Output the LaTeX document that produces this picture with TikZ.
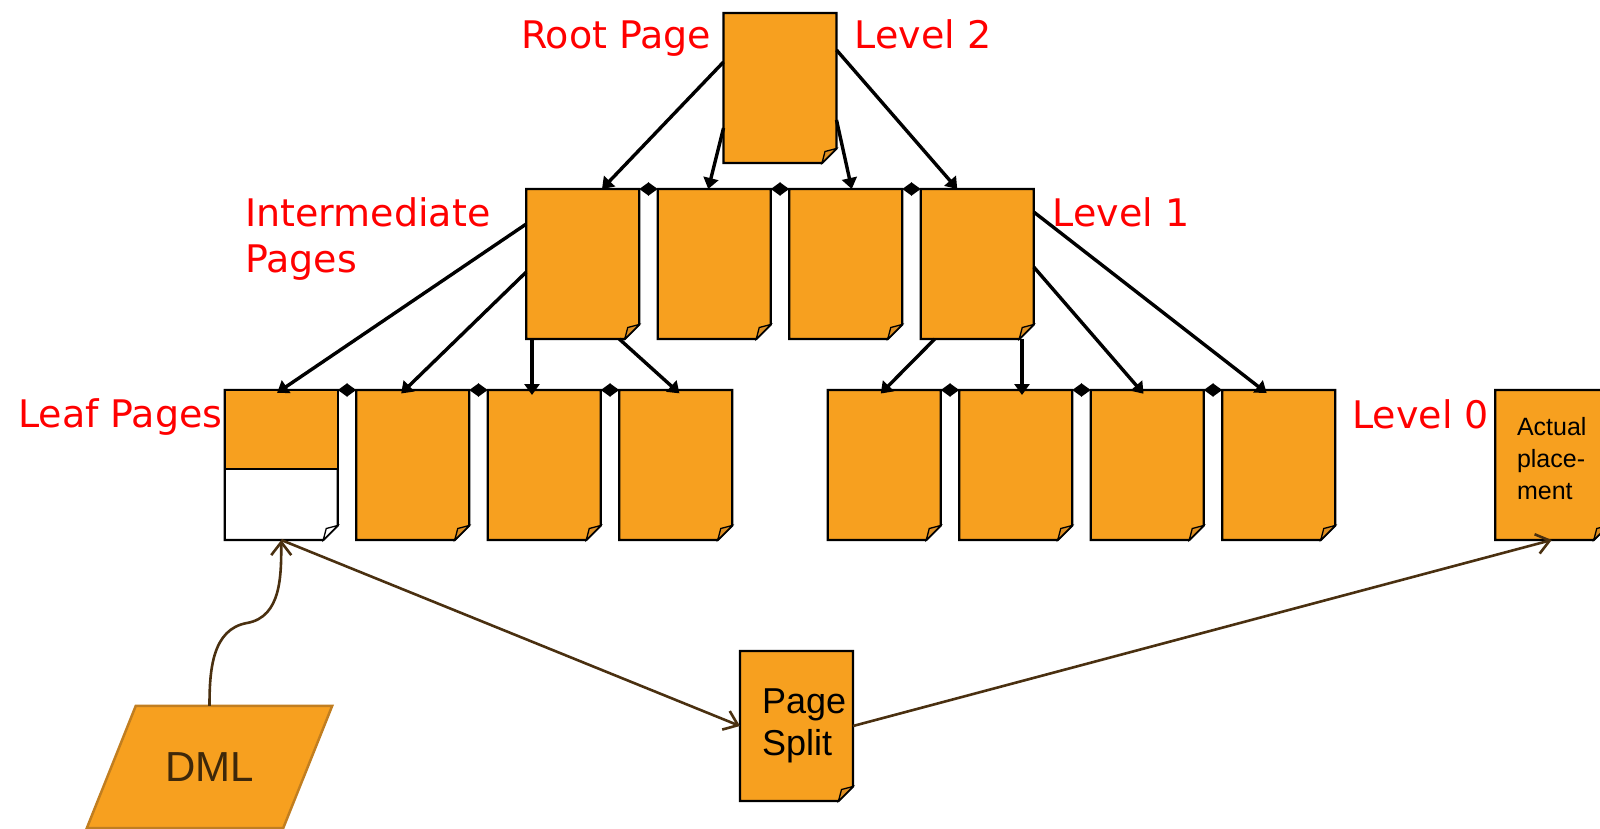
\documentclass[tikz,border=0pt]{standalone}
\usepackage{fontspec}
\setsansfont{Liberation Sans}
\newfontfamily\labelfont{DejaVu Sans}
\usetikzlibrary{positioning,calc,arrows.meta,backgrounds}

\definecolor{pageorange}{RGB}{247,160,31}
\definecolor{foldorange}{RGB}{221,142,34}
\definecolor{dmledge}{RGB}{193,126,32}
\definecolor{linkbrown}{RGB}{74,48,16}
\definecolor{dmltext}{RGB}{62,40,10}

\pgfmathsetlengthmacro{\pagewd}{113pt}
\pgfmathsetlengthmacro{\pageht}{150pt}
\pgfmathsetlengthmacro{\pagegap}{18.5pt}
\pgfmathsetlengthmacro{\halfgap}{\pagegap/2}
\pgfmathsetlengthmacro{\earlen}{14.5pt}

% dog-eared outline round a named node: node, page fill, fold fill
\newcommand{\pageshape}[3]{%
  \filldraw[fill=#2, line width=2.2pt] (#1.north west) -- (#1.north east)
    -- ([yshift=\earlen]#1.south east) -- ([xshift=-\earlen]#1.south east)
    -- (#1.south west) -- cycle;
  \filldraw[fill=#3, line width=1.3pt] ([yshift=\earlen]#1.south east)
    -- ([shift={(-11.5pt,11.5pt)}]#1.south east)
    -- ([xshift=-\earlen]#1.south east) -- cycle;
}

\begin{document}
\begin{tikzpicture}[x=1pt, y=1pt,
    page/.style={minimum width=\pagewd, minimum height=\pageht, inner sep=0pt, outer sep=0pt},
    lbl/.style={text=red, font=\labelfont\fontsize{38}{46}\selectfont, inner sep=0pt},
    tree/.style={line width=3.4pt, -{Triangle[length=11pt, width=15pt]}},
    into/.style={shorten >=-5pt},
    sib/.style={line width=2.2pt, {Triangle[length=9.5pt, width=13pt]}-{Triangle[length=9.5pt, width=13pt]}},
    link/.style={color=linkbrown, line width=2.6pt, -{Straight Barb[length=13pt, width=20pt]}},
  ]
  \useasboundingbox (0,0) rectangle (1600,-829);

  % root and level 1
  \node[page] (root) at (780,-88) {};
  \node[page, below left=26pt and \halfgap of root.south] (p2) {};
  \node[page, left=\pagegap of p2] (p1) {};
  \node[page, below right=26pt and \halfgap of root.south] (p3) {};
  \node[page, right=\pagegap of p3] (p4) {};
  % leaf level
  \coordinate (lvl0) at (root |- p2.south);
  \node[page, below left=51pt and 47.75pt of lvl0] (l4) {};
  \node[page, left=\pagegap of l4] (l3) {};
  \node[page, left=\pagegap of l3] (l2) {};
  \node[page, left=\pagegap of l2] (l1) {};
  \node[page, below right=51pt and 47.75pt of lvl0] (l5) {};
  \node[page, right=\pagegap of l5] (l6) {};
  \node[page, right=\pagegap of l6] (l7) {};
  \node[page, right=\pagegap of l7] (l8) {};
  \node[page, right=160pt of l8, align=left, text depth=14pt,
        font=\sffamily\fontsize{25}{32}\selectfont] (actual) {Actual\\place-\\ment};
  % split and DML
  \node[page, text width=69pt, align=left,
        font=\sffamily\fontsize{36}{42}\selectfont] (split) at (796.5,-726) {Page\\Split};
  \node[minimum width=196pt, minimum height=122pt, inner sep=0pt, text=dmltext,
        font=\sffamily\fontsize{42}{50}\selectfont] (dml) at (209.5,-767) {DML};
  \coordinate (bend) at (247,-623);

  % labels
  \node[lbl, anchor=base east] (rootlbl) at ([shift={(-12pt,-36pt)}]root.north west) {Root Page};
  \node[lbl, anchor=base west] (lvl2lbl) at ([shift={(18pt,-36pt)}]root.north east) {Level 2};
  \node[lbl, anchor=north west, align=left] (intlbl) at (245,-197) {Intermediate\\Pages};
  \node[lbl, anchor=base west] (lvl1lbl) at ([shift={(19pt,-37pt)}]p4.north east) {Level 1};
  \node[lbl, anchor=base east] (leaflbl) at ([shift={(-2pt,-37pt)}]l1.north west) {Leaf Pages};
  \node[lbl, anchor=base west] (lvl0lbl) at ([shift={(17pt,-38pt)}]l8.north east) {Level 0};

  % page shapes behind
  \begin{pgfonlayer}{background}
    \foreach \pg in {root,p1,p2,p3,p4,l2,l3,l4,l5,l6,l7,l8,split,actual}
      {\pageshape{\pg}{pageorange}{foldorange}}
    \pageshape{l1}{white}{white}
    \filldraw[fill=pageorange, line width=2.2pt] (l1.north west) rectangle ([yshift=-4pt]l1.east);
    \filldraw[fill=pageorange, draw=dmledge, line width=2.5pt]
      ([xshift=24.5pt]dml.north west) -- ([xshift=24.5pt]dml.north east)
      -- ([xshift=-24.5pt]dml.south east) -- ([xshift=-24.5pt]dml.south west) -- cycle;
  \end{pgfonlayer}

  % root to level 1
  \draw[tree] ([yshift=-49pt]root.north west) -- ([xshift=19.25pt]p1.north);
  \draw[tree] ([yshift=35pt]root.south west) -- ([xshift=-6pt]p2.north);
  \draw[tree] ([yshift=43pt]root.south east) -- ([xshift=6pt]p3.north);
  \draw[tree] ([yshift=-37pt]root.north east) -- ([xshift=-20pt]p4.north);
  % level 1 to leaves
  \draw[tree, into] ([yshift=-35pt]p1.north west) -- (l1.north);
  \draw[tree, into] ([yshift=-83pt]p1.north west) -- ([xshift=-8pt]l2.north);
  \draw[tree, into] ([xshift=5.75pt]p1.south west) -- ([xshift=5.75pt]p1.south west |- l3.north);
  \draw[tree, into] ([xshift=-20pt]p1.south east) -- (l4.north);
  \draw[tree, into] ([xshift=14pt]p4.south west) -- (l5.north);
  \draw[tree, into] ([xshift=-11.75pt]p4.south east) -- ([xshift=-11.75pt]p4.south east |- l6.north);
  \draw[tree, into] ([yshift=-78pt]p4.north east) -- ([xshift=-7pt]l7.north);
  \draw[tree, into] ([yshift=-23pt]p4.north east) -- ([xshift=-16pt]l8.north);
  % sibling links
  \draw[sib] (p1.north east) -- (p2.north west);
  \draw[sib] (p2.north east) -- (p3.north west);
  \draw[sib] (p3.north east) -- (p4.north west);
  \draw[sib] (l1.north east) -- (l2.north west);
  \draw[sib] (l2.north east) -- (l3.north west);
  \draw[sib] (l3.north east) -- (l4.north west);
  \draw[sib] (l5.north east) -- (l6.north west);
  \draw[sib] (l6.north east) -- (l7.north west);
  \draw[sib] (l7.north east) -- (l8.north west);

  % DML and split flow
  \draw[link] (dml.north) to[out=90, in=190] (bend) to[out=10, in=-90] (l1.south);
  \draw[link] (l1.south) -- (split.west);
  \draw[link] (split.east) -- (actual.south);
\end{tikzpicture}
\end{document}
